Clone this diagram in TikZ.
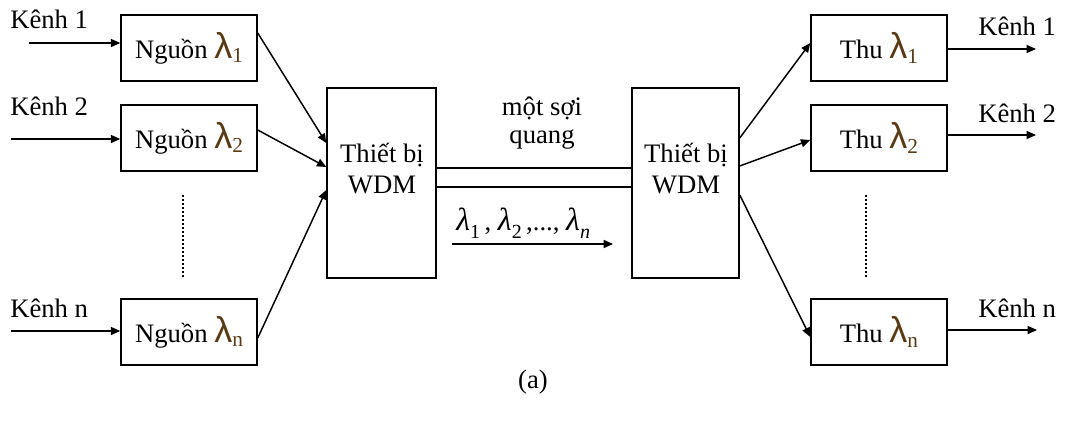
\documentclass[tikz,border=0pt]{standalone}
\usepackage{fontspec}
\setmainfont{Liberation Serif}
\newfontfamily\lamfont{Liberation Sans}
\usetikzlibrary{arrows.meta,calc}
\definecolor{lamcol}{RGB}{90,58,20}
\newcommand{\lam}[1]{{\color{lamcol}\fontsize{27}{28}\lamfont λ\raisebox{-0.12em}{\fontsize{16}{18}\rmfamily #1}}}
\newcommand{\ilam}[1]{{\fontsize{24}{26}\selectfont\textit{λ}}\raisebox{-0.3em}{\fontsize{15}{17}\selectfont #1}}
\tikzset{
  every node/.style={font=\fontsize{20}{24}\selectfont},
  box/.style={draw, line width=1.1pt, inner sep=0pt, minimum width=102pt, minimum height=49.5pt},
  wdmbox/.style={draw, line width=1.1pt, inner sep=0pt, minimum height=142.5pt},
  conn/.style={line width=1.1pt, -{Triangle[length=7pt,width=6pt]}},
  plain/.style={line width=1.1pt},
  dots/.style={line width=2pt, dash pattern=on 1.5pt off 1.5pt},
  lbl/.style={anchor=base west, inner sep=0pt}
}
\begin{document}
\begin{tikzpicture}[x=0.75pt,y=-0.75pt]
\useasboundingbox (0,0) rectangle (1067,421);
% source boxes
\node[box] (s1) at (189,48) {Nguồn \lam{1}};
\node[box] (s2) at (189,138) {Nguồn \lam{2}};
\node[box] (sn) at (189,332) {Nguồn \lam{n}};
% receiver boxes
\node[box] (r1) at (879,48) {Thu \lam{1}};
\node[box] (r2) at (879,138) {Thu \lam{2}};
\node[box] (rn) at (879,332) {Thu \lam{n}};
% WDM boxes
\node[wdmbox, minimum width=81.75pt] (w1) at (381.5,183) {};
\node[wdmbox, minimum width=80.25pt] (w2) at (685.5,183) {};
\node[anchor=base, inner sep=0pt] (w1a) at (382,162) {Thiết bị};
\node[anchor=base, inner sep=0pt] (w1b) at (382,193) {WDM};
\node[anchor=base, inner sep=0pt] (w2a) at (686,162) {Thiết bị};
\node[anchor=base, inner sep=0pt] (w2b) at (686,193) {WDM};
% input labels and arrows
\node[lbl] (k1) at (10,28) {Kênh 1};
\node[lbl] (k2) at (10,115) {Kênh 2};
\node[lbl] (kn) at (10,317) {Kênh n};
\coordinate (i1) at (29,43);
\coordinate (i2) at (11,139);
\coordinate (in) at (11,331);
\draw[conn] (i1) -- (i1 -| s1.west);
\draw[conn] (i2) -- (i2 -| s2.west);
\draw[conn] (in) -- (in -| sn.west);
% output labels and arrows
\node[lbl] (ok1) at (978,35) {Kênh 1};
\node[lbl] (ok2) at (978,122) {Kênh 2};
\node[lbl] (okn) at (978,317) {Kênh n};
\coordinate (o1) at (1036,49);
\coordinate (o2) at (1036,135);
\coordinate (on) at (1037,330);
\draw[conn] (o1 -| r1.east) -- (o1);
\draw[conn] (o2 -| r2.east) -- (o2);
\draw[conn] (on -| rn.east) -- (on);
% sources to WDM
\draw[conn] ($(s1.east)+(0,-15)$) -- ($(w1.west)+(0,-40)$);
\draw[conn] ($(s2.east)+(0,-8)$) -- ($(w1.west)+(0,-16)$);
\draw[conn] ($(sn.east)+(0,6)$) -- ($(w1.west)+(0,7)$);
% WDM to receivers
\draw[conn] ($(w2.east)+(0,-45)$) -- ($(r1.west)+(0,-5)$);
\draw[conn] ($(w2.east)+(0,-17)$) -- ($(r2.west)+(0,2)$);
\draw[conn] ($(w2.east)+(0,12)$) -- ($(rn.west)+(0,5)$);
% fibre
\draw[plain] ($(w1.east)+(0,-15)$) -- ($(w2.west)+(0,-15)$);
\draw[plain] ($(w1.east)+(0,4)$) -- ($(w2.west)+(0,4)$);
\node[anchor=base, inner sep=0pt] (f1) at (542,115) {một sợi};
\node[anchor=base, inner sep=0pt] (f2) at (542,143) {quang};
\node[anchor=base west, inner sep=0pt] (ls) at (456,230) {\ilam{1}\,, \ilam{2}\,,..., \ilam{\textit{n}}};
\coordinate (a1) at (452,244);
\coordinate (a2) at (613,244);
\draw[conn] (a1) -- (a2);
% dotted lines
\coordinate (d1a) at (183,195);
\coordinate (d1b) at (183,277);
\coordinate (d2a) at (866,195);
\coordinate (d2b) at (866,277);
\draw[dots] (d1a) -- (d1b);
\draw[dots] (d2a) -- (d2b);
% caption
\node (cap) at (533,382) {(a)};
\end{tikzpicture}
\end{document}
